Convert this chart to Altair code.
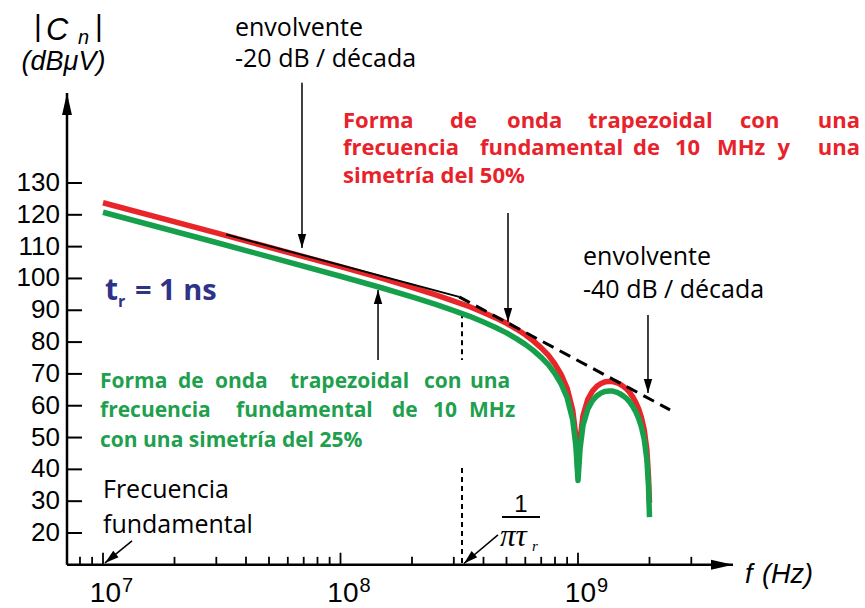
import altair as alt
import pandas as pd

# ---------------- data ----------------
freq_hz = [1e7, 3e7, 1e8, 1.5e8, 2e8, 2.5e8, 3e8, 3.5e8, 4e8, 4.5e8, 5e8, 5.5e8,
           6e8, 6.5e8, 7e8, 7.5e8, 8e8, 8.5e8, 9e8, 9.5e8, 9.8e8, 1e9, 1.02e9,
           1.05e9, 1.1e9, 1.15e9, 1.2e9, 1.25e9, 1.3e9, 1.35e9, 1.4e9, 1.45e9,
           1.5e9, 1.55e9, 1.6e9, 1.65e9, 1.7e9, 1.75e9, 1.8e9, 1.85e9, 1.9e9,
           1.95e9, 1.98e9, 2e9]
red_dbuv = [123.8, 114.3, 103.7, 100.0, 97.2, 94.9, 92.9, 91.1, 89.3, 87.6, 85.9,
            84.1, 82.3, 80.3, 78.2, 75.9, 73.1, 69.8, 65.5, 58.6, 50.2, 39.0, 49.4,
            56.9, 62.0, 64.6, 66.1, 67.0, 67.5, 67.6, 67.6, 67.3, 66.8, 66.1, 65.3,
            64.2, 62.8, 61.1, 59.0, 56.3, 52.5, 46.1, 38.0, 29.5]
green_dbuv = [120.8, 111.3, 100.7, 97.0, 94.2, 91.9, 89.9, 88.1, 86.3, 84.6, 82.9,
              81.1, 79.3, 77.3, 75.2, 72.9, 70.1, 66.8, 62.5, 55.6, 47.2, 36.5, 46.4,
              53.9, 59.0, 61.6, 63.1, 64.0, 64.5, 64.6, 64.6, 64.3, 63.8, 63.1, 62.3,
              61.2, 59.8, 58.1, 56.0, 53.3, 49.5, 43.1, 35.0, 25.0]

env20_f = [3.3e7, 3.16e8]
env20_db = [113.8, 94.2]
env40_f = [3.16e8, 2.44e9]
env40_db = [94.2, 58.7]

corner_f = 3.248e8              # 1/(pi*tr)
y_ticks = [20, 30, 40, 50, 60, 70, 80, 90, 100, 110, 120, 130]
x_minor = [8e6, 9e6, 2e7, 3e7, 4e7, 5e7, 6e7, 7e7, 8e7, 9e7,
           2e8, 3e8, 4e8, 5e8, 6e8, 7e8, 8e8, 9e8, 2e9, 3e9]
x_major = [1e7, 1e8, 1e9]
x_exp = ["7", "8", "9"]

axis_f0 = 7.054e6     # frequency where the vertical axis sits
axis_f1 = 4.495e9     # end of horizontal axis arrow
axis_v0 = 10.0
axis_v1 = 158.3

# ---------------- scales ----------------
XS = alt.Scale(type="log", domain=[3.684e6, 1.616e10], nice=False)
YS = alt.Scale(domain=[-3.57, 187.51], nice=False, zero=False)


def X(field="f"):
    return alt.X(f"{field}:Q", scale=XS, axis=None)


def Y(field="v"):
    return alt.Y(f"{field}:Q", scale=YS, axis=None)


HEAD = "M0,0L-2,-0.6L-2,0.6Z"
AXHEAD = "M0,0L-2,-0.45L-2,0.45Z"

layers = []

# axes lines
axes = pd.DataFrame({"f": [axis_f0, axis_f0], "v": [axis_v0, axis_v0],
                     "f2": [axis_f0, axis_f1], "v2": [axis_v1, axis_v0]})
layers.append(alt.Chart(axes).mark_rule(color="black", strokeWidth=2.5).encode(
    x=X(), y=Y(), x2="f2:Q", y2="v2:Q"))
axheads = pd.DataFrame({"f": [axis_f0, axis_f1], "v": [axis_v1, axis_v0], "a": [270, 0]})
layers.append(alt.Chart(axheads).mark_point(shape=AXHEAD, filled=True, size=484,
                                            color="black", opacity=1, strokeWidth=0).encode(
    x=X(), y=Y(), angle=alt.Angle("a:Q", scale=None)))

# y ticks and labels
yt = pd.DataFrame({"v": y_ticks, "f": axis_f0, "f2": 8.155e6})
layers.append(alt.Chart(yt).mark_rule(color="black", strokeWidth=2).encode(
    x=X(), x2="f2:Q", y=Y()))
layers.append(alt.Chart(yt).mark_text(align="right", baseline="middle", dx=-7,
                                      font="Liberation Sans", fontSize=26, color="black").encode(
    x=X(), y=Y(), text="v:Q"))

# x ticks and labels
xm = pd.DataFrame({"f": x_minor, "v": axis_v0, "v2": 12.5})
layers.append(alt.Chart(xm).mark_rule(color="black", strokeWidth=1.8).encode(
    x=X(), y=Y(), y2="v2:Q"))
xM = pd.DataFrame({"f": x_major, "v": axis_v0, "v2": 13.8, "e": x_exp,
                   "lv": -1.7, "ev": 1.6})
layers.append(alt.Chart(xM).mark_rule(color="black", strokeWidth=1.8).encode(
    x=X(), y=Y(), y2="v2:Q"))
layers.append(alt.Chart(xM).mark_text(align="right", baseline="alphabetic", dx=18,
                                      font="Liberation Sans", fontSize=28, color="black").encode(
    x=X(), y=Y("lv"), text=alt.value("10")))
layers.append(alt.Chart(xM).mark_text(align="left", baseline="alphabetic", dx=19,
                                      font="Liberation Sans", fontSize=20, color="black").encode(
    x=X(), y=Y("ev"), text="e:N"))

# vertical dashed line at 1/(pi tr)
vd = pd.DataFrame({"f": [corner_f, corner_f], "v": [89.1, 40.4], "v2": [74.4, 10.0]})
layers.append(alt.Chart(vd).mark_rule(color="black", strokeWidth=2, strokeDash=[5, 4]).encode(
    x=X(), y=Y(), y2="v2:Q"))

# curves
red = pd.DataFrame({"f": freq_hz, "v": red_dbuv})
green = pd.DataFrame({"f": freq_hz, "v": green_dbuv})
layers.append(alt.Chart(red).mark_line(color="#e8262a", strokeWidth=5.5, strokeJoin="round").encode(
    x=X(), y=Y()))
e20 = pd.DataFrame({"f": env20_f, "v": env20_db})
layers.append(alt.Chart(e20).mark_line(color="black", strokeWidth=2).encode(x=X(), y=Y()))
layers.append(alt.Chart(green).mark_line(color="#17a04c", strokeWidth=5.5, strokeJoin="round").encode(
    x=X(), y=Y()))
e40 = pd.DataFrame({"f": env40_f, "v": env40_db})
layers.append(alt.Chart(e40).mark_line(color="black", strokeWidth=3, strokeDash=[12, 7]).encode(
    x=X(), y=Y()))

# annotation arrows
arrows = pd.DataFrame({
    "f": [6.884e7, 5.073e8, 1.971e9, 1.439e8, 1.325e7, 4.605e8],
    "v": [161.5, 120.6, 88.5, 74.4, 17.5, 19.4],
    "f2": [6.884e7, 5.073e8, 1.971e9, 1.439e8, 1.0196e7, 3.311e8],
    "v2": [109.6, 86.3, 64.0, 96.4, 10.6, 10.4],
    "a": [90, 90, 90, 270, 141, 138],
})
layers.append(alt.Chart(arrows).mark_rule(color="black", strokeWidth=1.5).encode(
    x=X(), y=Y(), x2="f2:Q", y2="v2:Q"))
layers.append(alt.Chart(arrows).mark_point(shape=HEAD, filled=True, size=196, color="black",
                                           opacity=1, strokeWidth=0).encode(
    x=X("f2"), y=Y("v2"), angle=alt.Angle("a:Q", scale=None)))

# fraction bar of 1/(pi tau_r)
fb = pd.DataFrame({"f": [10 ** 8.68], "f2": [10 ** 8.84], "v": [25.0]})
layers.append(alt.Chart(fb).mark_rule(color="black", strokeWidth=2).encode(
    x=X(), x2="f2:Q", y=Y()))


def texts(rows, **props):
    df = pd.DataFrame(rows, columns=["f", "v", "t"])
    base = dict(align="left", baseline="alphabetic", font="Open Sans", color="black")
    base.update(props)
    return alt.Chart(df).mark_text(**base).encode(x=X(), y=Y(), text="t:N")


# black annotations
layers.append(texts([
    (10 ** 7.5558, 176.2, "envolvente"),
    (10 ** 7.5558, 166.5, "-20 dB / década"),
    (10 ** 9.0211, 104.2, "envolvente"),
    (10 ** 9.0211, 93.9, "-40 dB / década"),
    (10 ** 7.0, 31.0, "Frecuencia"),
    (10 ** 7.0, 20.0, "fundamental"),
], fontSize=25))

# red description (justified lines, word by word)
RED = "#e8222b"
layers.append(texts([
    (10 ** 8.0105, 147.4, "Forma"), (10 ** 8.4611, 147.4, "de"),
    (10 ** 8.7011, 147.4, "onda"), (10 ** 9.0421, 147.4, "trapezoidal"),
    (10 ** 9.6821, 147.4, "con"),
    (10 ** 8.0105, 138.8, "frecuencia"), (10 ** 8.5874, 138.8, "fundamental"),
    (10 ** 9.2316, 138.8, "de"), (10 ** 9.4084, 138.8, "10"),
    (10 ** 9.5853, 138.8, "MHz"), (10 ** 9.8400, 138.8, "y"),
    (10 ** 8.0105, 130.0, "simetría del 50%"),
], fontSize=22, fontWeight="bold", color=RED))
layers.append(texts([
    (10 ** 10.1874, 147.4, "una"), (10 ** 10.1874, 138.8, "una"),
], fontSize=22, fontWeight="bold", color=RED, align="right"))

# green description
GREEN = "#1ea04e"
layers.append(texts([
    (10 ** 6.9874, 65.6, "Forma"), (10 ** 7.3158, 65.6, "de"),
    (10 ** 7.4716, 65.6, "onda"), (10 ** 7.7874, 65.6, "trapezoidal"),
    (10 ** 8.3516, 65.6, "con"), (10 ** 8.5453, 65.6, "una"),
    (10 ** 6.9874, 56.5, "frecuencia"), (10 ** 7.5600, 56.5, "fundamental"),
    (10 ** 8.2168, 56.5, "de"), (10 ** 8.3895, 56.5, "10"),
    (10 ** 8.5411, 56.5, "MHz"),
    (10 ** 6.9874, 47.0, "con una simetría del 25%"),
], fontSize=21, fontWeight="bold", color=GREEN))

# t_r = 1 ns
NAVY = "#2e3388"
layers.append(texts([(10 ** 7.0084, 93.2, "t")], fontSize=30, fontWeight="bold", color=NAVY))
layers.append(texts([(10 ** 7.1347, 93.2, "= 1 ns")], fontSize=29, fontWeight="bold", color=NAVY))
layers.append(texts([(10 ** 7.0632, 91.0, "r")], fontSize=16, fontWeight="bold", color=NAVY))

# |Cn| (dBuV)
layers.append(texts([(10 ** 6.7263, 176.2, "|"), (10 ** 6.9831, 176.2, "|")],
                    font="Liberation Sans", fontSize=30, align="center"))
layers.append(texts([(10 ** 6.7600, 174.9, "C")], font="Liberation Sans", fontSize=31,
                    fontStyle="italic"))
layers.append(texts([(10 ** 6.8947, 173.8, "n")], font="Liberation Sans", fontSize=20,
                    fontStyle="italic"))
layers.append(texts([(10 ** 6.8337, 165.6, "(dBμV)")], font="Liberation Sans", fontSize=27,
                    fontStyle="italic", align="center"))

# f (Hz)
layers.append(texts([(10 ** 9.7032, 4.3, "f"), (10 ** 9.7747, 4.3, "(Hz)")],
                    font="Liberation Sans", fontSize=27, fontStyle="italic"))

# 1 / (pi tau_r)
layers.append(texts([(10 ** 8.76, 26.6, "1")], font="Liberation Sans", fontSize=24,
                    align="center"))
layers.append(texts([(10 ** 8.6716, 15.9, "πτ")], font="Liberation Serif", fontSize=31,
                    fontStyle="italic"))
layers.append(texts([(10 ** 8.8063, 14.3, "r")], font="Liberation Serif", fontSize=15,
                    fontStyle="italic"))

chart = alt.layer(*layers).properties(
    width=865, height=608, padding=0,
    autosize=alt.AutoSizeParams(type="none"),
    background="white",
).configure_view(stroke=None)

chart.save("out.html", embed_options={"renderer": "svg", "actions": False})
